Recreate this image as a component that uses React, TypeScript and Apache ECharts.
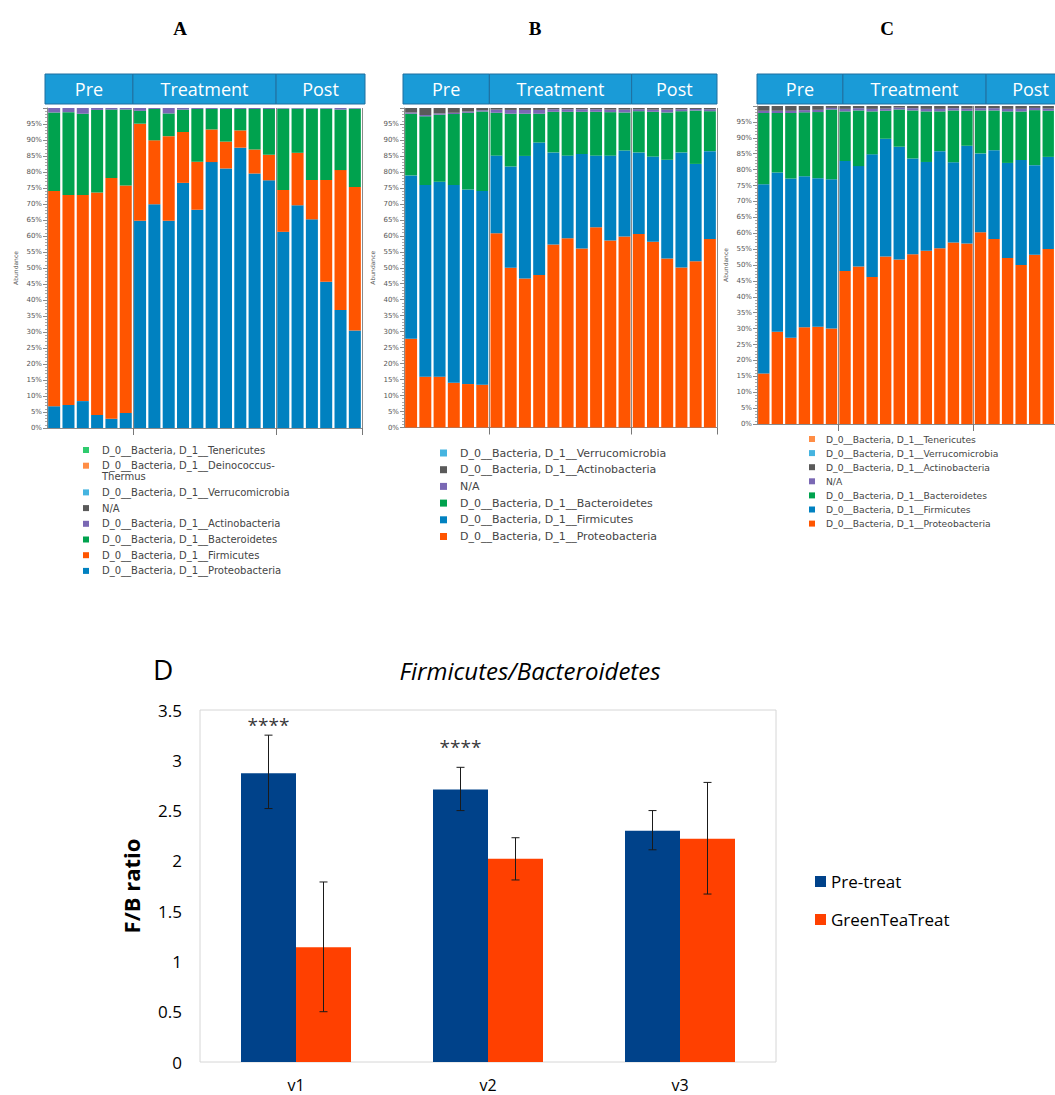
import React, { useEffect, useRef } from "react";
import * as echarts from "echarts";

// ---------- Panels A, B, C : relative abundance (cumulative tops, %) ----------
const samples = ["S1","S2","S3","S4","S5","S6","S7","S8","S9","S10","S11","S12","S13","S14","S15","S16","S17","S18","S19","S20","S21","S22"];
const groupNames = ["Pre", "Treatment", "Post"];
const groupSizes = [6, 10, 6];

// Panel A (bottom -> top): Proteobacteria, Firmicutes, Bacteroidetes, Actinobacteria(rest)
const aProteoTop = [6.8, 7.2, 8.4, 4.1, 2.9, 4.7, 64.8, 69.9, 64.8, 76.6, 68.2, 83.1, 81.1, 87.6, 79.5, 77.4, 61.3, 69.6, 65.2, 45.7, 36.9, 30.5];
const aFirmTop = [74.1, 72.8, 72.8, 73.6, 78.1, 75.8, 95.1, 89.9, 91.2, 92.5, 83.2, 93.3, 89.5, 93.0, 87.0, 85.4, 74.4, 86.0, 77.5, 77.5, 80.6, 75.3];
const aBactTop = [98.6, 98.7, 98.2, 99.4, 99.5, 99.5, 99.1, 99.7, 98.3, 99.5, 99.7, 99.7, 99.7, 99.7, 99.7, 99.7, 99.8, 99.8, 99.8, 99.8, 99.5, 99.8];

// Panel B (bottom -> top): Proteobacteria, Firmicutes, Bacteroidetes, N/A, Actinobacteria(rest)
const bProteoTop = [27.8, 15.9, 15.9, 14.0, 13.6, 13.4, 60.8, 50.0, 46.6, 47.7, 57.3, 59.2, 56.0, 62.7, 58.5, 59.8, 60.6, 58.1, 52.9, 50.1, 52.0, 59.0];
const bFirmTop = [78.9, 75.9, 76.9, 75.9, 74.5, 74.0, 85.1, 81.7, 85.0, 89.2, 86.1, 85.1, 85.6, 85.1, 85.1, 86.7, 86.1, 84.8, 83.8, 86.1, 82.5, 86.5];
const bBactTop = [98.2, 97.4, 97.9, 98.1, 98.5, 98.9, 98.5, 98.2, 98.2, 98.2, 98.8, 98.8, 98.8, 98.8, 98.7, 98.6, 99.0, 98.8, 98.6, 99.0, 99.2, 99.0];
const bNaTop = [98.6, 97.8, 98.3, 98.5, 98.9, 99.3, 99.5, 99.4, 99.4, 99.4, 99.6, 99.6, 99.6, 99.6, 99.5, 99.5, 99.6, 99.5, 99.5, 99.6, 99.7, 99.6];

// Panel C (bottom -> top): Proteobacteria, Firmicutes, Bacteroidetes, N/A, Actinobacteria(rest)
const cProteoTop = [15.9, 29.0, 27.1, 30.4, 30.6, 30.0, 48.1, 49.5, 46.2, 52.7, 51.7, 53.4, 54.5, 55.3, 57.1, 56.8, 60.3, 58.2, 52.2, 50.0, 53.2, 55.0];
const cFirmTop = [75.4, 79.1, 77.2, 77.9, 77.3, 77.0, 82.7, 81.1, 84.8, 89.7, 87.2, 83.5, 82.4, 85.8, 82.3, 87.5, 85.1, 86.1, 82.1, 83.0, 81.4, 84.0];
const cBactTop = [97.8, 97.8, 97.8, 98.0, 98.1, 98.9, 98.3, 98.6, 98.3, 98.5, 98.9, 98.6, 98.3, 98.3, 98.6, 98.5, 98.6, 98.6, 98.3, 98.3, 98.7, 98.5];
const cNaTop = [98.5, 98.5, 98.5, 98.7, 98.8, 99.4, 99.1, 99.3, 99.1, 99.2, 99.5, 99.3, 99.1, 99.1, 99.3, 99.2, 99.3, 99.3, 99.1, 99.1, 99.4, 99.2];

// ---------- Panel D : F/B ratio ----------
const visits = ["v1", "v2", "v3"];
const preTreat = [2.87, 2.71, 2.30];
const preTreatLow = [2.52, 2.50, 2.11];
const preTreatHigh = [3.25, 2.93, 2.50];
const greenTea = [1.14, 2.02, 2.22];
const greenTeaLow = [0.50, 1.81, 1.67];
const greenTeaHigh = [1.79, 2.23, 2.78];
const starLevels = [3.37, 3.15];

const C_BLUE = "#0081C0";
const C_ORANGE = "#FF5500";
const C_GREEN = "#00A24E";
const C_PURPLE = "#7A68B4";
const C_GRAY = "#5A5A5A";
const C_LBLUE = "#45B4E0";
const C_LORANGE = "#FF8D45";
const C_LGREEN = "#2FCB6E";

const legendA = [
  { name: "D_0__Bacteria, D_1__Tenericutes", color: C_LGREEN },
  { name: "D_0__Bacteria, D_1__Deinococcus-\nThermus", color: C_LORANGE },
  { name: "D_0__Bacteria, D_1__Verrucomicrobia", color: C_LBLUE },
  { name: "N/A", color: C_GRAY },
  { name: "D_0__Bacteria, D_1__Actinobacteria", color: C_PURPLE },
  { name: "D_0__Bacteria, D_1__Bacteroidetes", color: C_GREEN },
  { name: "D_0__Bacteria, D_1__Firmicutes", color: C_ORANGE },
  { name: "D_0__Bacteria, D_1__Proteobacteria", color: C_BLUE },
];
const legendB = [
  { name: "D_0__Bacteria, D_1__Verrucomicrobia", color: C_LBLUE },
  { name: "D_0__Bacteria, D_1__Actinobacteria", color: C_GRAY },
  { name: "N/A", color: C_PURPLE },
  { name: "D_0__Bacteria, D_1__Bacteroidetes", color: C_GREEN },
  { name: "D_0__Bacteria, D_1__Firmicutes", color: C_BLUE },
  { name: "D_0__Bacteria, D_1__Proteobacteria", color: C_ORANGE },
];
const legendC = [
  { name: "D_0__Bacteria, D_1__Tenericutes", color: C_LORANGE },
  { name: "D_0__Bacteria, D_1__Verrucomicrobia", color: C_LBLUE },
  { name: "D_0__Bacteria, D_1__Actinobacteria", color: C_GRAY },
  { name: "N/A", color: C_PURPLE },
  { name: "D_0__Bacteria, D_1__Bacteroidetes", color: C_GREEN },
  { name: "D_0__Bacteria, D_1__Firmicutes", color: C_BLUE },
  { name: "D_0__Bacteria, D_1__Proteobacteria", color: C_ORANGE },
];

function layers(tops: number[][]): number[][] {
  const out: number[][] = [];
  for (let k = 0; k <= tops.length; k++) {
    out.push(
      samples.map((_, i) => {
        const hi = k < tops.length ? tops[k][i] : 100;
        const lo = k > 0 ? tops[k - 1][i] : 0;
        return Math.round((hi - lo) * 100) / 100;
      })
    );
  }
  return out;
}

const gridsABC = [
  { left: 47, top: 108, width: 315, height: 320 },
  { left: 404, top: 108, width: 313, height: 319.5 },
  { left: 757, top: 106, width: 315, height: 318 },
];
const headerBoxes = [
  { top: 74, x0: 45, x1: 365 },
  { top: 74, x0: 403, x1: 717 },
  { top: 74, x0: 757, x1: 1075 },
];

export default function App() {
  const ref = useRef<HTMLDivElement>(null);
  useEffect(() => {
    if (!ref.current) return;
    const chart = echarts.init(ref.current, undefined, { renderer: "svg" });

    const panelLayers = [
      { data: layers([aProteoTop, aFirmTop, aBactTop]), names: ["Proteobacteria", "Firmicutes", "Bacteroidetes", "Actinobacteria"], colors: [C_BLUE, C_ORANGE, C_GREEN, C_PURPLE] },
      { data: layers([bProteoTop, bFirmTop, bBactTop, bNaTop]), names: ["Proteobacteria", "Firmicutes", "Bacteroidetes", "N/A", "Actinobacteria"], colors: [C_ORANGE, C_BLUE, C_GREEN, C_PURPLE, C_GRAY] },
      { data: layers([cProteoTop, cFirmTop, cBactTop, cNaTop]), names: ["Proteobacteria", "Firmicutes", "Bacteroidetes", "N/A", "Actinobacteria"], colors: [C_ORANGE, C_BLUE, C_GREEN, C_PURPLE, C_GRAY] },
    ];

    const boundaryIdx = [groupSizes[0], groupSizes[0] + groupSizes[1]];
    const isBoundary = (i: number) => boundaryIdx.indexOf(i) >= 0;

    const grids: any[] = gridsABC.map((g) => ({ ...g }));
    grids.push({ left: 200, top: 710, width: 576, height: 352, show: true, borderColor: "#d6d6d6", borderWidth: 1, backgroundColor: "transparent" });

    const xAxes: any[] = gridsABC.map((_, k) => ({
      gridIndex: k,
      type: "category",
      data: samples,
      axisLine: { show: true, lineStyle: { color: "#8a8a8a" } },
      axisTick: { show: true, length: 7, interval: (i: number) => isBoundary(i), lineStyle: { color: "#777" } },
      axisLabel: { show: false },
      splitLine: { show: true, interval: (i: number) => isBoundary(i), lineStyle: { color: "#8a8a8a", width: 1 } },
    }));
    xAxes.push({
      gridIndex: 3,
      type: "category",
      data: visits,
      axisLine: { show: false },
      axisTick: { show: false },
      axisLabel: { fontSize: 16, color: "#000", margin: 15, fontFamily: "Open Sans" },
    });

    const yAxes: any[] = gridsABC.map((_, k) => ({
      gridIndex: k,
      type: "value",
      min: 0,
      max: 100,
      interval: 5,
      name: "Abundance",
      nameLocation: "middle",
      nameGap: 29,
      nameTextStyle: { fontSize: 6, color: "#555" },
      axisLine: { show: true, lineStyle: { color: "#8a8a8a" } },
      axisTick: { show: true, length: 4, lineStyle: { color: "#8a8a8a" } },
      minorTick: { show: true, splitNumber: 5, length: 2, lineStyle: { color: "#aaa" } },
      axisLabel: { fontSize: 7, color: "#555", margin: 5, formatter: (v: number) => (v === 100 ? "" : v + "%") },
      splitLine: { show: false },
    }));
    yAxes.push({
      gridIndex: 3,
      type: "value",
      min: 0,
      max: 3.5,
      interval: 0.5,
      name: "F/B ratio",
      nameLocation: "middle",
      nameGap: 58,
      nameTextStyle: { fontSize: 22, fontWeight: "bold", color: "#000", fontFamily: "Open Sans" },
      axisLine: { show: false },
      axisTick: { show: false },
      splitLine: { show: false },
      axisLabel: { fontSize: 17, color: "#000", margin: 18, fontFamily: "Open Sans" },
    });

    const series: any[] = [];
    panelLayers.forEach((p, k) => {
      p.data.forEach((d, j) => {
        series.push({
          type: "bar",
          name: p.names[j],
          xAxisIndex: k,
          yAxisIndex: k,
          stack: "panel" + k,
          data: d,
          barCategoryGap: "16%",
          itemStyle: { color: p.colors[j] },
        });
      });
    });

    const BW = 55;
    series.push({ type: "bar", name: "Pre-treat", xAxisIndex: 3, yAxisIndex: 3, data: preTreat, barWidth: BW, barGap: "0%", itemStyle: { color: "#00428A" } });
    series.push({ type: "bar", name: "GreenTeaTreat", xAxisIndex: 3, yAxisIndex: 3, data: greenTea, barWidth: BW, barGap: "0%", itemStyle: { color: "#FF4000" } });

    const errRender = (off: number) => (params: any, api: any) => {
      const i = api.value(0);
      const lo = api.coord([i, api.value(1)]);
      const hi = api.coord([i, api.value(2)]);
      const x = lo[0] + off;
      const cap = 4;
      const st = { stroke: "#1a1a1a", lineWidth: 1 };
      return {
        type: "group",
        children: [
          { type: "line", shape: { x1: x, y1: lo[1], x2: x, y2: hi[1] }, style: st },
          { type: "line", shape: { x1: x - cap, y1: lo[1], x2: x + cap, y2: lo[1] }, style: st },
          { type: "line", shape: { x1: x - cap, y1: hi[1], x2: x + cap, y2: hi[1] }, style: st },
        ],
      };
    };
    series.push({
      type: "custom",
      name: "Pre-treat error",
      xAxisIndex: 3,
      yAxisIndex: 3,
      renderItem: errRender(-BW / 2),
      data: visits.map((_, i) => [i, preTreatLow[i], preTreatHigh[i]]),
      z: 10,
    });
    series.push({
      type: "custom",
      name: "GreenTeaTreat error",
      xAxisIndex: 3,
      yAxisIndex: 3,
      renderItem: errRender(BW / 2),
      data: visits.map((_, i) => [i, greenTeaLow[i], greenTeaHigh[i]]),
      z: 10,
    });
    series.push({
      type: "scatter",
      name: "significance",
      xAxisIndex: 3,
      yAxisIndex: 3,
      symbolSize: 1,
      itemStyle: { color: "rgba(0,0,0,0)" },
      data: starLevels.map((v, i) => [i, v]),
      label: { show: true, position: "inside", offset: [-BW / 2, 2], formatter: "****", fontSize: 19, color: "#000", fontFamily: "Open Sans" },
      z: 11,
    });

    // Graphics: header boxes and legends
    const graphic: any[] = [];
    gridsABC.forEach((g, k) => {
      const hb = headerBoxes[k];
      const pitch = g.width / samples.length;
      let acc = 0;
      groupSizes.forEach((n, gi) => {
        const xs = gi === 0 ? hb.x0 : g.left + acc * pitch;
        acc += n;
        const xe = gi === groupSizes.length - 1 ? hb.x1 : g.left + acc * pitch;
        graphic.push({
          type: "rect",
          shape: { x: xs, y: hb.top, width: xe - xs, height: 30 },
          style: { fill: "#1A9BD7", stroke: "#1F6F9F", lineWidth: 1 },
          z: 5,
        });
        graphic.push({
          type: "text",
          x: (xs + xe) / 2,
          y: hb.top + 15,
          style: { text: groupNames[gi], fill: "#fff", font: "18px 'Open Sans'", textAlign: "center", textVerticalAlign: "middle", align: "center", verticalAlign: "middle" },
          z: 6,
        });
      });
    });

    const legendSpecs = [
      { items: legendA, sqX: 83, txX: 102, y0: 450, pitch: 15.7, size: 10, sq: 6, lh: 11 },
      { items: legendB, sqX: 440, txX: 460, y0: 453, pitch: 16.7, size: 11, sq: 7, lh: 12 },
      { items: legendC, sqX: 809, txX: 826, y0: 439, pitch: 14.1, size: 9.2, sq: 6, lh: 10 },
    ];
    legendSpecs.forEach((L) => {
      let y = L.y0;
      L.items.forEach((it) => {
        const lines = it.name.split("\n").length;
        graphic.push({
          type: "rect",
          shape: { x: L.sqX, y: y - L.sq / 2, width: L.sq, height: L.sq },
          style: { fill: it.color },
        });
        graphic.push({
          type: "text",
          x: L.txX,
          y: y - L.lh / 2,
          style: { text: it.name, fill: "#454545", font: `${L.size}px 'DejaVu Sans'`, lineHeight: L.lh, textVerticalAlign: "top", verticalAlign: "top" },
        });
        y += L.pitch + (lines - 1) * L.lh;
      });
    });

    const panelLetter = (t: string, x: number) => ({
      text: t,
      left: x,
      top: 14,
      textAlign: "center",
      textStyle: { fontFamily: "Liberation Serif", fontWeight: "bold", fontSize: 19, color: "#000" },
    });

    chart.setOption({
      animation: false,
      backgroundColor: "#fff",
      textStyle: { fontFamily: "DejaVu Sans" },
      title: [
        panelLetter("A", 175),
        panelLetter("B", 530),
        panelLetter("C", 882),
        { text: "D", left: 148, top: 650, textStyle: { fontFamily: "Open Sans", fontWeight: "normal", fontSize: 28, color: "#000" } },
        { text: "Firmicutes/Bacteroidetes", left: 525, top: 653, textAlign: "center", textStyle: { fontFamily: "Open Sans", fontStyle: "italic", fontWeight: "normal", fontSize: 24, color: "#000" } },
      ],
      legend: {
        data: ["Pre-treat", "GreenTeaTreat"],
        left: 810,
        top: 868,
        orient: "vertical",
        itemWidth: 11,
        itemHeight: 11,
        itemGap: 21,
        icon: "rect",
        textStyle: { fontSize: 17, color: "#000", fontFamily: "Open Sans" },
      },
      grid: grids,
      xAxis: xAxes,
      yAxis: yAxes,
      series,
      graphic,
    });
    return () => chart.dispose();
  }, []);
  return <div ref={ref} style={{ position: "absolute", left: 0, top: 0, width: 1055, height: 1095 }} />;
}
